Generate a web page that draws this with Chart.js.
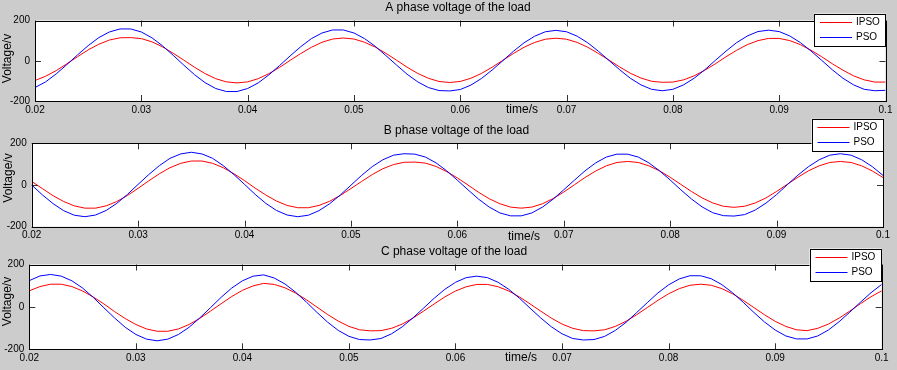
<!DOCTYPE html>
<html>
<head>
<meta charset="utf-8">
<script src="https://cdn.jsdelivr.net/npm/chart.js@4.4.0/dist/chart.umd.min.js"></script>
<style>
html, body { margin: 0; padding: 0; background: #cccccc; }
#wrap { position: relative; width: 897px; height: 370px; overflow: hidden; }
#wrap canvas { position: absolute; left: 0; top: 0; }
</style>
</head>
<body>
<div id="wrap">
  <canvas id="chart-a" width="897" height="370"></canvas>
  <canvas id="chart-b" width="897" height="370"></canvas>
  <canvas id="chart-c" width="897" height="370"></canvas>
</div>
<script>
// time samples (s)
const times = [
  0.020, 0.021, 0.022, 0.023, 0.024, 0.025, 0.026, 0.027, 0.028, 0.029,
  0.030, 0.031, 0.032, 0.033, 0.034, 0.035, 0.036, 0.037, 0.038, 0.039,
  0.040, 0.041, 0.042, 0.043, 0.044, 0.045, 0.046, 0.047, 0.048, 0.049,
  0.050, 0.051, 0.052, 0.053, 0.054, 0.055, 0.056, 0.057, 0.058, 0.059,
  0.060, 0.061, 0.062, 0.063, 0.064, 0.065, 0.066, 0.067, 0.068, 0.069,
  0.070, 0.071, 0.072, 0.073, 0.074, 0.075, 0.076, 0.077, 0.078, 0.079,
  0.080, 0.081, 0.082, 0.083, 0.084, 0.085, 0.086, 0.087, 0.088, 0.089,
  0.090, 0.091, 0.092, 0.093, 0.094, 0.095, 0.096, 0.097, 0.098, 0.099,
  0.100
];
const xTicks = [0.02, 0.03, 0.04, 0.05, 0.06, 0.07, 0.08, 0.09, 0.1];
const yTicks = [-200, 0, 200];
const seriesNames = ['IPSO', 'PSO'];
const titles = ['A phase voltage of the load', 'B phase voltage of the load', 'C phase voltage of the load'];

// phase A
const aIPSO = [
  -98, -77, -49, -15, 20, 54, 82, 103, 114,
  115, 110, 94, 69, 37, 3, -32, -64, -89, -105,
  -110, -105, -89, -64, -33, 2, 36, 67, 92, 108,
  113, 108, 92, 68, 37, 3, -32, -63, -87, -103,
  -108, -103, -87, -63, -32, 2, 36, 67, 91, 107,
  112, 107, 91, 67, 36, 3, -31, -62, -86, -102, -107,
  -106, -95, -75, -47, -15, 20, 52, 80, 100, 111,
  111, 100, 80, 52, 20, -15, -47, -75, -95, -106,
  -106
];
const aPSO = [
  -133, -105, -65, -19, 29, 75, 115, 143, 158,
  158, 143, 114, 74, 27, -22, -69, -109, -138, -153,
  -153, -138, -110, -70, -24, 24, 70, 110, 138, 153,
  153, 138, 110, 72, 26, -21, -67, -105, -133, -148,
  -150, -143, -121, -88, -46, 0, 47, 89, 122, 144,
  151, 144, 122, 89, 47, 1, -45, -87, -120, -142,
  -149, -142, -120, -87, -45, 2, 48, 90, 123, 145,
  152, 145, 123, 90, 48, 2, -45, -87, -120, -142, -149,
  -147
];

// phase B
const bIPSO = [
  17, -17, -51, -79, -100, -111,
  -111, -100, -79, -50, -16, 20, 54, 83, 104, 115,
  115, 104, 83, 54, 21, -15, -48, -77, -98, -109,
  -109, -98, -78, -50, -17, 17, 50, 78, 98, 109,
  110, 105, 89, 64, 34, 0, -35, -66, -90, -106,
  -111, -106, -90, -65, -34, 1, 36, 67, 92, 108,
  113, 108, 92, 68, 37, 3, -31, -62, -86, -102,
  -107, -102, -86, -62, -31, 3, 37, 68, 92, 108,
  113, 108, 92, 67, 36
];
const bPSO = [
  0, -47, -89, -123, -145,
  -152, -144, -122, -88, -45, 3, 50, 93, 128, 149,
  157, 149, 128, 93, 50, 3, -45, -88, -122, -144,
  -152, -145, -123, -90, -48, -1, 46, 88, 121, 143, 150,
  148, 134, 106, 68, 23, -23, -68, -106, -134, -148,
  -148, -134, -106, -68, -23, 23, 68, 106, 134, 148,
  148, 134, 106, 68, 24, -23, -67, -105, -133, -147,
  -149, -142, -120, -87, -46, 1, 47, 88, 121, 143,
  150, 143, 121, 88, 46
];

// phase C
const cIPSO = [
  76, 96, 107,
  107, 96, 75, 47, 14, -22, -55, -83, -104, -115,
  -115, -104, -83, -54, -20, 15, 49, 78, 99,
  111, 106, 90, 65, 34, -1, -36, -67, -92, -108, -113,
  -112, -101, -81, -53, -20, 14, 47, 75, 95, 106,
  106, 95, 75, 47, 14, -20, -53, -81, -101, -112,
  -113, -108, -92, -68, -37, -3, 31, 62, 86, 102,
  107, 102, 86, 62, 31, -3, -37, -68, -92, -108,
  -112, -101, -81, -53, -20, 15, 48, 76
];
const cPSO = [
  124, 146,
  153, 145, 123, 89, 45, -4, -52, -96, -130, -152,
  -160, -152, -130, -96, -52, -4, 45, 89, 123, 145,
  151, 136, 108, 69, 23, -26, -72, -111, -139, -154,
  -156, -149, -127, -94, -52, -6, 41, 83, 116, 138,
  145, 138, 116, 83, 41, -6, -52, -94, -127, -149, -156,
  -154, -139, -111, -73, -27, 20, 66, 104, 132, 147,
  147, 133, 105, 67, 22, -26, -71, -109, -137, -151,
  -151, -137, -109, -70, -25, 22, 67, 106
];

const FONT = '"Liberation Sans", Arial, Helvetica, sans-serif';
const W = 897, H = 370;
const Y_W = 30, X_H = 20;
const RED = '#ff0000', BLUE = '#0000ff';

// where each subplot sits on the page
const panels = [
  {id: 'chart-a', title: titles[0], ipso: aIPSO, pso: aPSO,
   area: {left: 35, right: 885.5, top: 20.5, bottom: 101},
   titlePos: [458, 7.5], timePos: [522, 110], voltPos: [8, 58.5], legendPos: [814, 13.5]},
  {id: 'chart-b', title: titles[1], ipso: bIPSO, pso: bPSO,
   area: {left: 31.7, right: 883, top: 143.3, bottom: 226.7},
   titlePos: [456.5, 131], timePos: [524, 237], voltPos: [8.5, 178], legendPos: [811.5, 118.8]},
  {id: 'chart-c', title: titles[2], ipso: cIPSO, pso: cPSO,
   area: {left: 29.3, right: 881.7, top: 264.5, bottom: 349.3},
   titlePos: [454, 252], timePos: [521, 358], voltPos: [8, 301.5], legendPos: [809.5, 248.5]}
];

function framePlugin(p) {
  return {
    id: 'frame',
    beforeDraw(chart) {
      const a = chart.chartArea;
      const ctx = chart.ctx;
      ctx.save();
      ctx.fillStyle = '#ffffff';
      ctx.fillRect(a.left, a.top, a.right - a.left, a.bottom - a.top);
      ctx.restore();
    },
    afterDraw(chart) {
      const ctx = chart.ctx;
      const a = chart.chartArea;
      const xs = chart.scales.x, ys = chart.scales.y;
      ctx.save();

      // inner tick marks, matlab style
      ctx.strokeStyle = '#333333';
      ctx.lineWidth = 1;
      ctx.beginPath();
      xTicks.forEach(v => {
        const px = Math.round(xs.getPixelForValue(v)) + 0.5;
        ctx.moveTo(px, a.bottom); ctx.lineTo(px, a.bottom - 6);
        ctx.moveTo(px, a.top); ctx.lineTo(px, a.top + 6);
      });
      yTicks.forEach(v => {
        const py = Math.round(ys.getPixelForValue(v)) + 0.5;
        ctx.moveTo(a.left, py); ctx.lineTo(a.left + 6, py);
        ctx.moveTo(a.right, py); ctx.lineTo(a.right - 6, py);
      });
      ctx.stroke();

      // axes box
      ctx.strokeStyle = '#000000';
      const l = Math.round(a.left) + 0.5, t = Math.round(a.top) + 0.5;
      ctx.strokeRect(l, t, Math.round(a.right) - Math.round(a.left), Math.round(a.bottom) - Math.round(a.top));

      // texts
      ctx.fillStyle = '#000000';
      ctx.font = '12px ' + FONT;
      ctx.textAlign = 'center';
      ctx.textBaseline = 'middle';
      ctx.fillText(p.title, p.titlePos[0], p.titlePos[1]);
      ctx.fillText('time/s', p.timePos[0], p.timePos[1]);
      ctx.save();
      ctx.translate(p.voltPos[0], p.voltPos[1]);
      ctx.rotate(-Math.PI / 2);
      ctx.fillText('Voltage/v', 0, 0);
      ctx.restore();

      // legend
      const [bx, by] = p.legendPos;
      ctx.fillStyle = '#ffffff';
      ctx.fillRect(bx, by, 72, 32.5);
      ctx.strokeStyle = '#000000';
      ctx.strokeRect(Math.round(bx) + 0.5, Math.round(by) + 0.5, 71, 32);
      const colors = [RED, BLUE];
      ctx.font = '10px ' + FONT;
      ctx.textAlign = 'left';
      seriesNames.forEach((name, i) => {
        const ry = Math.round(by + 8.5 + i * 15) + 0.5;
        ctx.strokeStyle = colors[i];
        ctx.beginPath();
        ctx.moveTo(bx + 6, ry);
        ctx.lineTo(bx + 38, ry);
        ctx.stroke();
        ctx.fillStyle = '#000000';
        ctx.fillText(name, bx + 42, ry);
      });

      ctx.restore();
    }
  };
}

function makeData(values) {
  return times.map((t, i) => ({x: t, y: values[i]}));
}

panels.forEach(p => {
  const el = document.getElementById(p.id);
  new Chart(el, {
    type: 'line',
    data: {
      datasets: [
        {
          label: seriesNames[1],
          data: makeData(p.pso),
          borderColor: BLUE,
          borderWidth: 1,
          pointRadius: 0,
          tension: 0,
          order: 1
        },
        {
          label: seriesNames[0],
          data: makeData(p.ipso),
          borderColor: RED,
          borderWidth: 1,
          pointRadius: 0,
          tension: 0,
          order: 2
        }
      ]
    },
    options: {
      responsive: false,
      animation: false,
      devicePixelRatio: 1,
      events: [],
      layout: {
        padding: {
          left: p.area.left - Y_W,
          right: W - p.area.right,
          top: p.area.top,
          bottom: H - p.area.bottom - X_H
        }
      },
      plugins: {
        legend: {display: false},
        tooltip: {enabled: false},
        title: {display: false}
      },
      scales: {
        x: {
          type: 'linear',
          min: 0.02,
          max: 0.1,
          grid: {display: false, drawTicks: false},
          border: {display: false},
          afterBuildTicks: s => { s.ticks = xTicks.map(v => ({value: v})); },
          afterFit: s => { s.height = X_H; s.paddingLeft = 0; s.paddingRight = 0; },
          ticks: {
            padding: 3,
            color: '#000000',
            autoSkip: false,
            maxRotation: 0,
            font: {family: FONT, size: 10},
            callback: v => String(+Number(v).toFixed(2))
          }
        },
        y: {
          type: 'linear',
          min: -200,
          max: 200,
          grid: {display: false, drawTicks: false},
          border: {display: false},
          afterBuildTicks: s => { s.ticks = yTicks.map(v => ({value: v})); },
          afterFit: s => { s.width = Y_W; s.paddingTop = 0; s.paddingBottom = 0; },
          ticks: {
            padding: 5,
            color: '#000000',
            autoSkip: false,
            font: {family: FONT, size: 10}
          }
        }
      }
    },
    plugins: [framePlugin(p)]
  });
});
</script>
</body>
</html>
